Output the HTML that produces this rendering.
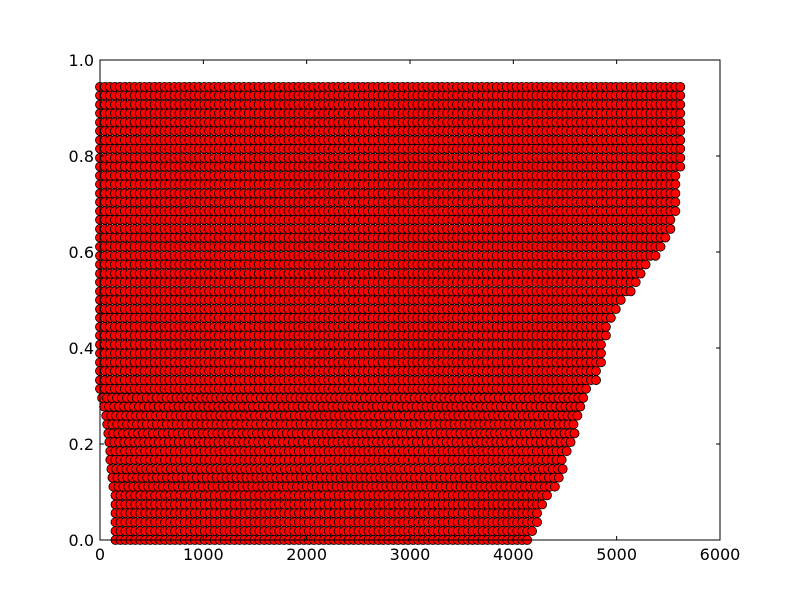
<!DOCTYPE html>
<html><head><meta charset="utf-8"><style>
html,body{margin:0;padding:0;background:#fff;}
svg{display:block;font-family:"DejaVu Sans","Liberation Sans",sans-serif;}
</style></head><body>
<svg id="chart" width="800" height="600">
<rect x="0" y="0" width="800" height="600" fill="#fff"/>
<g id="points"></g>
<rect x="100" y="60" width="620" height="480" fill="none" stroke="#000" stroke-width="1"/>
<g id="axes"></g>
</svg>
<script>
const yLevels = [0,0.0185,0.037,0.056,0.074,0.093,0.111,0.13,0.148,0.167,0.185,0.204,0.222,0.241,0.259,0.278,0.296,0.315,0.333,0.352,0.37,0.389,0.407,0.426,0.444,0.463,0.481,0.5,0.518,0.537,0.555,0.574,0.592,0.611,0.63,0.648,0.667,0.685,0.704,0.722,0.741,0.759,0.778,0.796,0.815,0.833,0.852,0.87,0.889,0.907,0.926,0.944];
const rowMaxX = [4150,4200,4230,4270,4300,4330,4420,4440,4480,4500,4560,4580,4600,4620,4640,4670,4700,4750,4800,4830,4860,4870,4880,4900,4920,4950,5000,5080,5150,5200,5270,5320,5380,5440,5500,5550,5560,5570,5580,5590,5600,5610,5620,5630,5630,5630,5630,5630,5630,5640,5640,5640];
const rowMinX = [150,150,150,150,150,150,130,120,110,100,100,90,80,70,60,40,20,0,0,0,0,0,0,0,0,0,0,0,0,0,0,0,0,0,0,0,0,0,0,0,0,0,0,0,0,0,0,0,0,0,0,0];
const xTicks = [0,1000,2000,3000,4000,5000,6000];
const yTicks = [0,0.2,0.4,0.6,0.8,1.0];
const xTickLabels = ["0","1000","2000","3000","4000","5000","6000"];
const yTickLabels = ["0.0","0.2","0.4","0.6","0.8","1.0"];

const X0=100,X1=720,Y0=540,Y1=60;
function sx(v){return X0+(v/6000)*(X1-X0);}
function sy(v){return Y0-(v/1.0)*(Y0-Y1);}
const NS="http://www.w3.org/2000/svg";
const pg=document.getElementById('points');
const step=48;
for(let k=0;k<yLevels.length;k++){
  for(let x=rowMinX[k];x<=rowMaxX[k];x+=step){
    const c=document.createElementNS(NS,'circle');
    c.setAttribute('cx',sx(x).toFixed(1));
    c.setAttribute('cy',sy(yLevels[k]).toFixed(1));
    c.setAttribute('r','4.5');
    c.setAttribute('fill','#ff0000');
    c.setAttribute('stroke','#000');
    c.setAttribute('stroke-width','0.8');
    
    
    pg.appendChild(c);
  }
}
const ax=document.getElementById('axes');
xTicks.forEach((t,i)=>{
  const x=sx(t);
  [[Y0,Y0-4],[Y1,Y1+4]].forEach(([a,b])=>{
    const l=document.createElementNS(NS,'line');
    l.setAttribute('x1',x);l.setAttribute('x2',x);l.setAttribute('y1',a);l.setAttribute('y2',b);
    l.setAttribute('stroke','#000');
    
    
    ax.appendChild(l);
  });
  const tx=document.createElementNS(NS,'text');
  tx.setAttribute('x',x);tx.setAttribute('y',Y0+20);
  tx.setAttribute('text-anchor','middle');tx.setAttribute('font-size','16');
  tx.textContent=xTickLabels[i];
  
  
  ax.appendChild(tx);
});
yTicks.forEach((t,i)=>{
  const y=sy(t);
  [[X0,X0+4],[X1,X1-4]].forEach(([a,b])=>{
    const l=document.createElementNS(NS,'line');
    l.setAttribute('x1',a);l.setAttribute('x2',b);l.setAttribute('y1',y);l.setAttribute('y2',y);
    l.setAttribute('stroke','#000');
    
    
    ax.appendChild(l);
  });
  const tx=document.createElementNS(NS,'text');
  tx.setAttribute('x',X0-6);tx.setAttribute('y',y+6);
  tx.setAttribute('text-anchor','end');tx.setAttribute('font-size','16');
  tx.textContent=yTickLabels[i];
  
  
  ax.appendChild(tx);
});
</script>
</body></html>
